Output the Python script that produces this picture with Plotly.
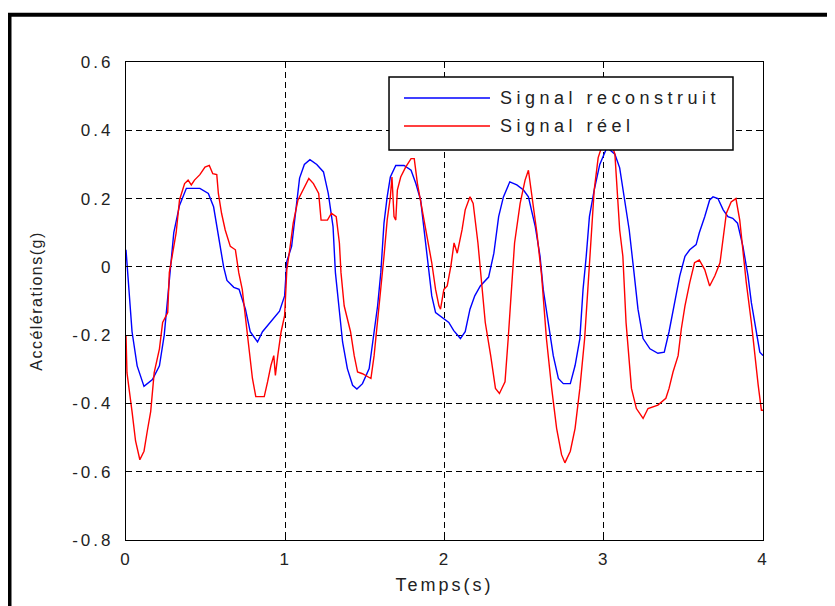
import plotly.graph_objects as go

# ---- data ----
t_reconstruit = [0, 0.017, 0.038, 0.07, 0.113, 0.166, 0.21, 0.24, 0.27, 0.30, 0.336, 0.379, 0.464, 0.517,
                 0.55, 0.58, 0.613, 0.634, 0.677, 0.71, 0.75, 0.78, 0.826, 0.857, 0.91, 0.964, 0.996,
                 1.01, 1.04, 1.06, 1.09, 1.12, 1.155, 1.198, 1.24, 1.27, 1.30, 1.315, 1.34, 1.36, 1.39,
                 1.423, 1.45, 1.485, 1.527, 1.548, 1.58, 1.60, 1.62, 1.64, 1.66, 1.694, 1.746, 1.79,
                 1.82, 1.85, 1.88, 1.90, 1.92, 1.944, 1.996, 2.027, 2.058, 2.10, 2.13, 2.16, 2.19,
                 2.225, 2.277, 2.31, 2.34, 2.37, 2.41, 2.454, 2.496, 2.527, 2.57, 2.60, 2.62, 2.65,
                 2.683, 2.715, 2.746, 2.79, 2.82, 2.85, 2.87, 2.89, 2.91, 2.94, 2.975, 3.02, 3.07,
                 3.10, 3.13, 3.16, 3.19, 3.215, 3.247, 3.29, 3.34, 3.38, 3.41, 3.445, 3.477, 3.51,
                 3.54, 3.58, 3.60, 3.634, 3.665, 3.686, 3.717, 3.75, 3.78, 3.81, 3.84, 3.874, 3.906,
                 3.927, 3.958, 3.98, 4.0]
v_reconstruit = [0.05, -0.066, -0.19, -0.29, -0.35, -0.33, -0.29, -0.2, -0.06, 0.1, 0.18, 0.23, 0.23, 0.215,
                 0.176, 0.09, 0.0, -0.04, -0.06, -0.066, -0.124, -0.19, -0.22, -0.19, -0.16, -0.13, -0.085,
                 0.016, 0.06, 0.147, 0.26, 0.30, 0.314, 0.30, 0.278, 0.215, 0.118, -0.017, -0.134, -0.22, -0.298,
                 -0.347, -0.358, -0.342, -0.298, -0.23, -0.114, -0.017, 0.128, 0.205, 0.263, 0.297, 0.297, 0.283,
                 0.244, 0.196, 0.07, -0.017, -0.085, -0.134, -0.153, -0.163, -0.187, -0.21, -0.19, -0.124, -0.085,
                 -0.056, -0.03, 0.04, 0.147, 0.205, 0.249, 0.24, 0.225, 0.205, 0.118, 0.031, -0.066, -0.163,
                 -0.26, -0.327, -0.342, -0.342, -0.289, -0.21, -0.066, 0.031, 0.147, 0.225, 0.30, 0.35, 0.33,
                 0.29, 0.205, 0.108, -0.017, -0.124, -0.21, -0.24, -0.253, -0.25, -0.19, -0.105, -0.027, 0.031,
                 0.05, 0.065, 0.1, 0.147, 0.196, 0.205, 0.2, 0.167, 0.147, 0.142, 0.128, 0.06, -0.027,
                 -0.105, -0.19, -0.25, -0.26]

t_reel = [0, 0.006, 0.038, 0.06, 0.087, 0.113, 0.134, 0.155, 0.177, 0.21, 0.23, 0.262, 0.272, 0.294, 0.315,
          0.336, 0.368, 0.39, 0.41, 0.43, 0.464, 0.496, 0.523, 0.545, 0.57, 0.58, 0.60, 0.623, 0.655, 0.687,
          0.708, 0.73, 0.75, 0.772, 0.794, 0.815, 0.868, 0.889, 0.91, 0.928, 0.938, 0.953, 0.974, 0.996,
          1.01, 1.028, 1.05, 1.08, 1.113, 1.148, 1.177, 1.21, 1.225, 1.265, 1.29, 1.32, 1.34, 1.35, 1.37,
          1.39, 1.41, 1.433, 1.454, 1.485, 1.517, 1.538, 1.558, 1.58, 1.60, 1.62, 1.64, 1.66, 1.67, 1.683,
          1.694, 1.704, 1.725, 1.756, 1.79, 1.81, 1.83, 1.86, 1.89, 1.92, 1.944, 1.965, 1.975, 1.996, 2.017,
          2.04, 2.06, 2.08, 2.11, 2.13, 2.16, 2.18, 2.21, 2.235, 2.256, 2.29, 2.32, 2.345, 2.38, 2.40, 2.42,
          2.44, 2.475, 2.506, 2.527, 2.55, 2.58, 2.61, 2.64, 2.673, 2.704, 2.735, 2.756, 2.79, 2.82, 2.85,
          2.88, 2.90, 2.92, 2.94, 2.965, 3.0, 3.05, 3.07, 3.10, 3.12, 3.14, 3.174, 3.205, 3.247, 3.278, 3.34,
          3.39, 3.41, 3.435, 3.467, 3.487, 3.51, 3.54, 3.57, 3.60, 3.634, 3.665, 3.697, 3.73, 3.75, 3.77,
          3.80, 3.83, 3.854, 3.874, 3.895, 3.927, 3.948, 3.97, 3.99, 4.0]
v_reel = [-0.2, -0.31, -0.424, -0.51, -0.565, -0.54, -0.48, -0.424, -0.31, -0.24, -0.163, -0.134, -0.017, 0.05, 0.1,
          0.196, 0.244, 0.254, 0.24, 0.254, 0.27, 0.292, 0.297, 0.273, 0.27, 0.215, 0.157, 0.108, 0.06, 0.05,
          -0.017, -0.066, -0.143, -0.24, -0.327, -0.38, -0.38, -0.337, -0.289, -0.26, -0.318, -0.26, -0.19, -0.143,
          -0.008, 0.05, 0.128, 0.196, 0.225, 0.259, 0.244, 0.215, 0.137, 0.137, 0.157, 0.147, 0.07, -0.017, -0.114,
          -0.153, -0.19, -0.26, -0.308, -0.313, -0.322, -0.327, -0.26, -0.163, -0.066, 0.031, 0.137, 0.205, 0.263, 0.147,
          0.137, 0.225, 0.263, 0.292, 0.317, 0.317, 0.244, 0.167, 0.1, 0.012, -0.066, -0.114, -0.124, -0.066, -0.056,
          0.002, 0.07, 0.04, 0.108, 0.167, 0.205, 0.186, 0.07, -0.046, -0.163, -0.26, -0.356, -0.371, -0.337, -0.21, -0.066,
          0.07, 0.186, 0.254, 0.283, 0.205, 0.1, -0.027, -0.21, -0.356, -0.473, -0.55, -0.574, -0.54, -0.473, -0.356,
          -0.21, -0.066, 0.07, 0.225, 0.32, 0.37, 0.36, 0.33, 0.108, 0.031, -0.163, -0.356, -0.415, -0.444, -0.415, -0.405,
          -0.385, -0.356, -0.308, -0.26, -0.182, -0.114, -0.046, 0.012, 0.02, -0.008, -0.056, -0.027, 0.012, 0.08, 0.157,
          0.19, 0.2, 0.137, 0.05, -0.046, -0.163, -0.26, -0.347, -0.42, -0.42]

series_names = ["Signal reconstruit", "Signal réel"]
x_ticks = [0, 1, 2, 3, 4]
x_tick_labels = ["0", "1", "2", "3", "4"]
y_ticks = [-0.8, -0.6, -0.4, -0.2, 0, 0.2, 0.4, 0.6]
y_tick_labels = ["-0.8", "-0.6", "-0.4", "-0.2", "0", "0.2", "0.4", "0.6"]
x_title = "Temps(s)"
y_title = "Accélérations(g)"

FONT = "Liberation Sans, Arial, sans-serif"


def spaced(s, px):
    return '<span style="letter-spacing:%spx">%s</span>' % (px, s)


fig = go.Figure()
fig.add_trace(go.Scatter(x=t_reconstruit, y=v_reconstruit, mode="lines", name=series_names[0],
                         line=dict(color="#0000FF", width=1.4), showlegend=False))
fig.add_trace(go.Scatter(x=t_reel, y=v_reel, mode="lines", name=series_names[1],
                         line=dict(color="#FF0000", width=1.4), showlegend=False))

axis_common = dict(showline=True, linecolor="black", linewidth=1.2, mirror="ticks",
                   ticks="inside", ticklen=5, tickcolor="black",
                   showgrid=True, gridcolor="black", gridwidth=1, griddash="6px,4px",
                   zeroline=False, tickfont=dict(family=FONT, size=17, color="#222"))

fig.update_xaxes(range=[0, 4], tickvals=x_ticks, ticktext=[spaced(s, 2) for s in x_tick_labels],
                 ticklabelstandoff=3,
                 title=dict(text=spaced(x_title, 3), font=dict(family=FONT, size=18, color="#222"), standoff=10),
                 **axis_common)
fig.update_yaxes(range=[-0.8, 0.6], tickvals=y_ticks, ticktext=[spaced(s, 3) for s in y_tick_labels],
                 ticklabelstandoff=8,
                 title=dict(text=spaced(y_title, 1.5), font=dict(family=FONT, size=16, color="#222"), standoff=25),
                 **axis_common)

# MATLAB-like legend box (drawn in paper coordinates)
lx0, lx1, ly0, ly1 = 0.4129, 0.9529, 0.8159, 0.9686
shapes = [
    dict(type="rect", xref="paper", yref="paper", x0=lx0, x1=lx1, y0=ly0, y1=ly1,
         fillcolor="white", line=dict(color="black", width=1.5), layer="above"),
    dict(type="line", xref="paper", yref="paper", x0=0.4364, x1=0.5714, y0=0.9247, y1=0.9247,
         line=dict(color="#0000FF", width=1.4), layer="above"),
    dict(type="line", xref="paper", yref="paper", x0=0.4364, x1=0.5714, y0=0.8661, y1=0.8661,
         line=dict(color="#FF0000", width=1.4), layer="above"),
    # outer figure frame
    dict(type="rect", xref="paper", yref="paper", x0=-0.1829, x1=1.3, y0=-0.3, y1=1.0990,
         line=dict(color="black", width=4), fillcolor="rgba(0,0,0,0)", layer="above"),
]
annotations = [
    dict(xref="paper", yref="paper", x=0.584, y=0.9247, text=spaced(series_names[0], 4.5), showarrow=False,
         xanchor="left", yanchor="middle", font=dict(family=FONT, size=18, color="#222")),
    dict(xref="paper", yref="paper", x=0.584, y=0.8661, text=spaced(series_names[1], 4.5), showarrow=False,
         xanchor="left", yanchor="middle", font=dict(family=FONT, size=18, color="#222")),
]

fig.update_layout(width=835, height=606, margin=dict(l=118, r=80, t=54, b=74),
                  paper_bgcolor="white", plot_bgcolor="white",
                  shapes=shapes, annotations=annotations, showlegend=False)

fig.write_html("out.html")
